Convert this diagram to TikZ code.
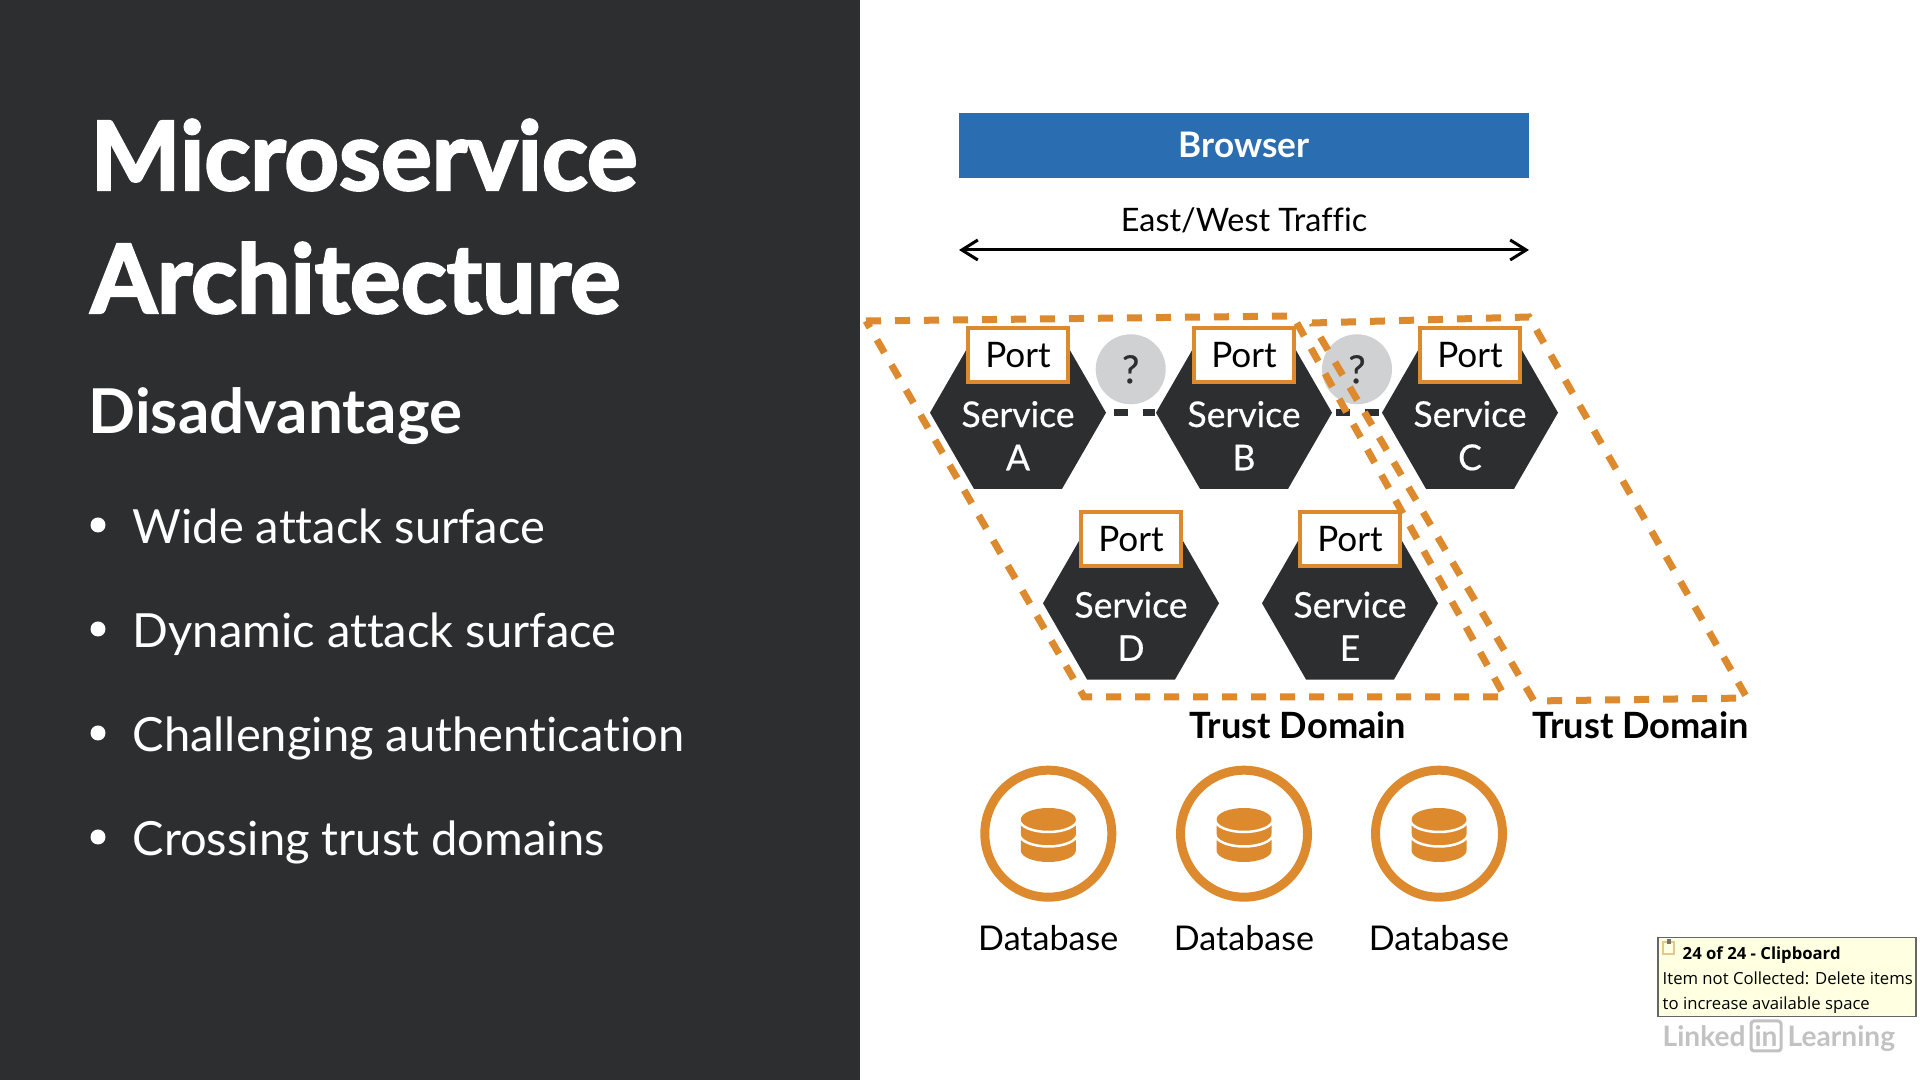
\documentclass[tikz,border=0pt]{standalone}
\usepackage{fontspec}
\setmainfont{Lato}[Ligatures={NoCommon,TeX}]
\newfontfamily\heavyfont{Lato}[BoldFeatures={FakeBold=2.5}]
\newfontfamily\midfont{Lato}[FakeBold=0.5, Ligatures={NoCommon,TeX}]
\newfontfamily\tipfont{Open Sans}
\usetikzlibrary{arrows.meta,shapes.geometric}
\definecolor{slate}{HTML}{2D2E30}
\definecolor{amber}{HTML}{DD8A2E}
\definecolor{azure}{HTML}{2A6DB0}
\definecolor{mist}{HTML}{CFD1D3}
\definecolor{notefill}{HTML}{FFFFE1}
\definecolor{cliptan}{HTML}{E8C88A}
\def\fs#1{\fontsize{#1}{#1}\selectfont}
% stack of three discs, drawn at the centre of a database ring
\def\dbstack(#1){
	\fill[amber] ([shift={(-0.275,0.142)}]#1) -- ([shift={(-0.275,-0.168)}]#1) arc (180:360:0.275 and 0.115) -- ([shift={(0.275,0.142)}]#1) arc (0:180:0.275 and 0.115) -- cycle;
	\draw[white, line width=0.025cm] ([shift={(-0.29,0.142)}]#1) arc (180:360:0.29 and 0.125);
	\draw[white, line width=0.025cm] ([shift={(-0.29,-0.003)}]#1) arc (180:360:0.29 and 0.125);
}
\tikzset{
	heading/.style={anchor=base west, inner sep=0, text=white, font=\heavyfont\bfseries\fs{27.1}},
	subheading/.style={anchor=base west, inner sep=0, text=white, font=\bfseries\fs{17.6}},
	bullet/.style={anchor=base west, inner sep=0, text=white, font=\fs{13.4}},
	dot/.style={circle, fill=white, inner sep=0, minimum size=0.15cm},
	hexa/.style={regular polygon, regular polygon sides=6, fill=slate, inner sep=0, minimum size=1.76cm},
	svctext/.style={align=center, inner sep=0, text=white, font=\midfont\fontsize{10.1}{12.3}\selectfont},
	portbox/.style={rectangle, fill=white, draw=amber, line width=0.04cm, inner sep=0, minimum width=1.0cm, minimum height=0.54cm, font=\fs{10}},
	asker/.style={circle, fill=mist, inner sep=0, minimum size=0.7cm, font=\midfont\fs{11}, text=slate},
	linkline/.style={line width=0.065cm, color=slate, dash pattern=on 0.14cm off 0.15cm},
	trustline/.style={line width=0.07cm, color=amber, dash pattern=on 0.15cm off 0.14cm},
	trusttext/.style={anchor=base, inner sep=0, font=\bfseries\fs{10.3}},
	dbring/.style={circle, draw=amber, line width=0.09cm, inner sep=0, minimum size=1.27cm},
	dbtext/.style={anchor=base, inner sep=0, font=\fs{9.7}},
	tiptext/.style={anchor=base west, inner sep=0, font=\tipfont\fs{4.75}},
	markfaint/.style={inner sep=0, text=black!24, font=\bfseries\fs{8}},
}
\begin{document}
\begin{tikzpicture}
	%%%%% PANEL %%%%%
	\fill[white] (0, 0) rectangle (19.2, 10.8);
	\useasboundingbox (0, 0) rectangle (19.2, 10.8);
	\fill[slate] (0, 0) rectangle (8.6, 10.8);
	
	\node[heading] (title1) at (0.90, 8.90) {Microservice};
	\node[heading] (title2) at (0.90, 7.67) {Architecture};
	\node[subheading] (subtitle) at (0.88, 6.46) {Disadvantage};
	
	\foreach \n/\y/\txt in {1/5.36/Wide attack surface, 2/4.32/Dynamic attack surface, 3/3.28/Challenging authentication, 4/2.24/Crossing trust domains} {
		\node[dot] (dot\n) at (0.98, \y+0.19) {};
		\node[bullet] (item\n) at (1.32, \y) {\txt};
	}
	
	%%%%% BROWSER %%%%%
	\node[rectangle, fill=azure, inner sep=0, minimum width=5.70cm, minimum height=0.65cm, text=white, font=\bfseries\fs{10}] (browser) at (12.44, 9.348) {Browser};
	\coordinate (westend) at (9.59, 8.30);
	\coordinate (eastend) at (15.29, 8.30);
	\draw[{Straight Barb[length=0.16cm, width=0.2cm]}-{Straight Barb[length=0.16cm, width=0.2cm]}, line width=0.03cm, color=black] (westend) -- (eastend);
	\node[anchor=base, inner sep=0, font=\fs{9.2}] (traffic) at (12.44, 8.48) {East/West Traffic};
	
	%%%%% SERVICES %%%%%
	\foreach \svc/\cx/\cy/\py in {A/10.18/6.673/7.253, B/12.44/6.673/7.253, C/14.70/6.673/7.253, D/11.31/4.767/5.41, E/13.50/4.767/5.41} {
		\node[hexa] (hex\svc) at (\cx, \cy) {};
		\node[portbox] (port\svc) at (\cx, \py) {Port};
		\node[svctext] (name\svc) at (\cx, \cy-0.23) {Service\\\svc};
	}
	
	\node[asker] (askone) at (11.307, 7.107) {?};
	\node[asker] (asktwo) at (13.57, 7.107) {?};
	\draw[linkline, dash phase=0.22cm] (hexA.east) -- (hexB.west);
	\draw[linkline, dash phase=0.26cm] (hexB.east) -- (hexC.west);
	
	%%%%% TRUST DOMAINS %%%%%
	\coordinate (oneA) at (8.66, 7.59);
	\coordinate (oneB) at (12.93, 7.64);
	\coordinate (oneC) at (15.05, 3.83);
	\coordinate (oneD) at (10.84, 3.83);
	\draw[trustline] (oneA) -- (oneB) -- (oneC) -- (oneD) -- cycle;
	
	\coordinate (twoA) at (13.12, 7.57);
	\coordinate (twoB) at (15.29, 7.63);
	\coordinate (twoC) at (17.47, 3.82);
	\coordinate (twoD) at (15.34, 3.79);
	\draw[trustline] (twoA) -- (twoB) -- (twoC) -- (twoD) -- cycle;
	
	\node[trusttext] (trustone) at (12.98, 3.41) {Trust Domain};
	\node[trusttext] (trusttwo) at (16.405, 3.41) {Trust Domain};
	
	%%%%% DATABASES %%%%%
	\foreach \n/\x in {1/10.483, 2/12.44, 3/14.39} {
		\node[dbring] (ring\n) at (\x, 2.463) {};
		\dbstack(ring\n.center)
		\node[dbtext] (dblabel\n) at (\x, 1.29) {Database};
	}
	
	%%%%% CLIPBOARD NOTE %%%%%
	\node[rectangle, fill=notefill, draw=black!60, line width=0.012cm, inner sep=0, minimum width=2.58cm, minimum height=0.79cm] (note) at (16.58+1.29, 0.635+0.395) {};
	\fill[cliptan] (16.62, 1.25) rectangle (16.75, 1.39);
	\fill[notefill] (16.64, 1.27) rectangle (16.73, 1.37);
	\fill[black!55] (16.67, 1.36) rectangle (16.71, 1.41);
	\node[tiptext, font=\tipfont\bfseries\fs{4.75}] (noteline1) at (16.82, 1.20) {24 of 24 - Clipboard};
	\node[tiptext] (noteline2) at (16.62, 0.95) {Item not Collected: Delete items};
	\node[tiptext] (noteline3) at (16.62, 0.70) {to increase available space};
	
	\node[markfaint, anchor=base west] (linked) at (16.62, 0.33) {Linked};
	\node[markfaint, rectangle, rounded corners=0.03cm, draw=black!24, line width=0.03cm, minimum width=0.30cm, minimum height=0.30cm] (inbadge) at (17.66, 0.44) {in};
	\node[markfaint, anchor=base west] (learning) at (17.87, 0.33) {Learning};
	%%%%% END %%%%%
\end{tikzpicture}
\end{document}
